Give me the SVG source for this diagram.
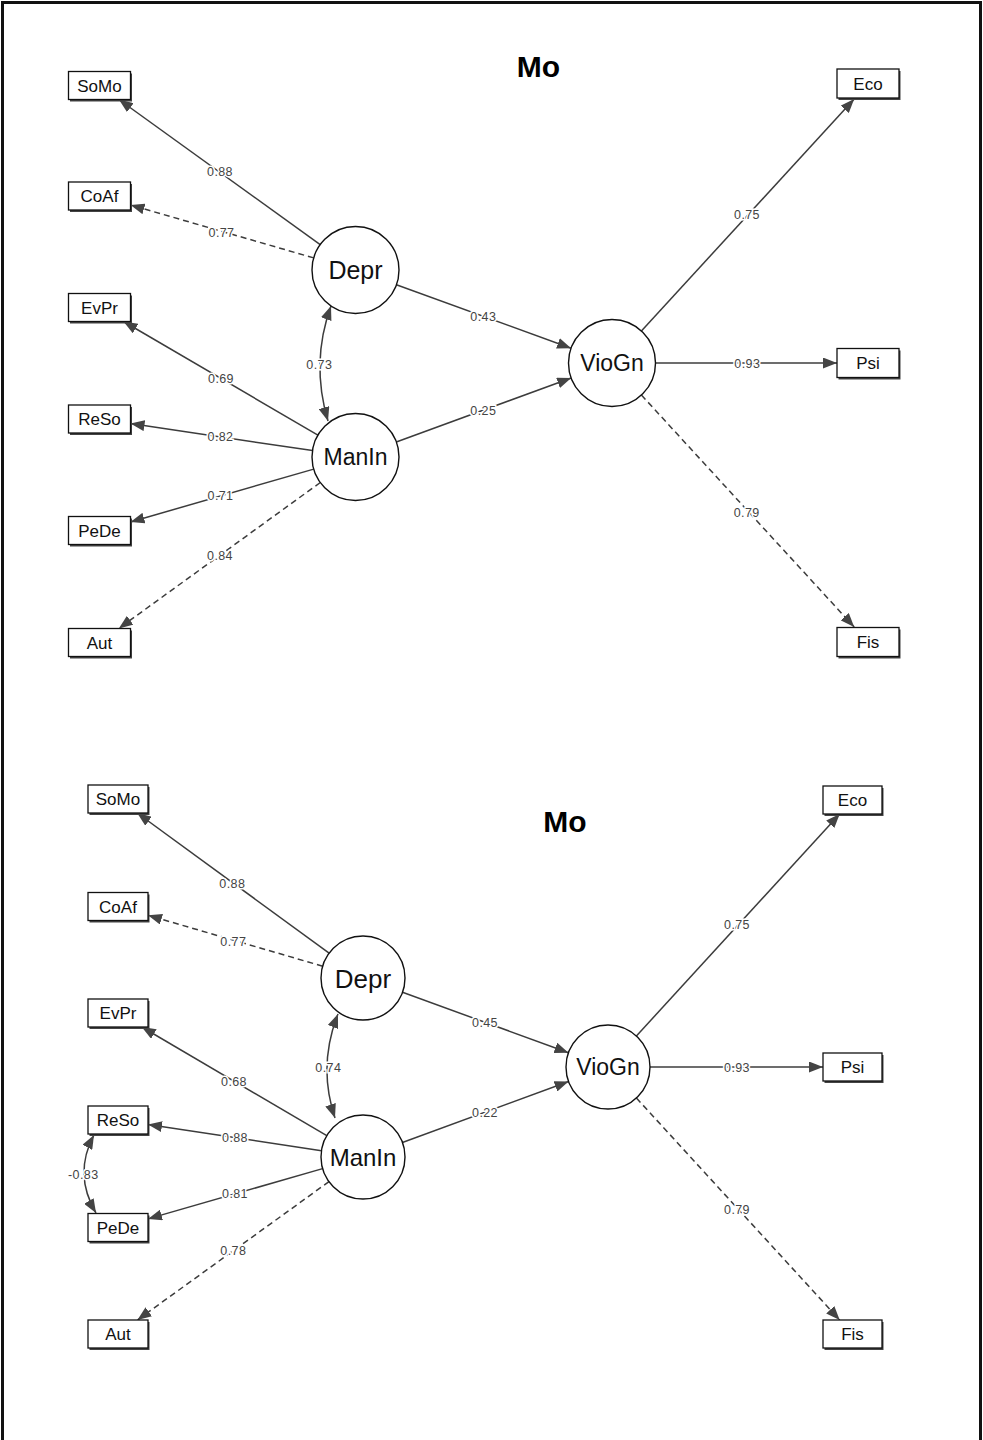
<svg xmlns="http://www.w3.org/2000/svg" width="983" height="1440" viewBox="0 0 983 1440">
<style>
text{font-family:"Liberation Sans",Arial,sans-serif;}
.title{font-size:30px;font-weight:bold;fill:#000;text-anchor:middle;}
.lat circle{fill:#fff;stroke:#111;stroke-width:1.4;}
.lat text{fill:#111;text-anchor:middle;}
.man .sh{fill:#444;}
.man rect.bx{fill:#fff;stroke:#111;stroke-width:1.3;}
.man text{fill:#111;text-anchor:middle;font-size:17px;}
.e{stroke:#3c3c3c;stroke-width:1.5;fill:none;marker-end:url(#ah);}
.d{stroke-dasharray:6 4;}
.bi{marker-start:url(#ah);}
.lbl{font-size:12.5px;letter-spacing:0.4px;fill:#444;text-anchor:middle;stroke:#fff;stroke-width:3;paint-order:stroke;}
</style>
<defs>
<marker id="ah" viewBox="0 0 14 11" refX="14" refY="5.5" markerWidth="14" markerHeight="11" markerUnits="userSpaceOnUse" orient="auto-start-reverse"><path d="M0,0 L14,5.5 L0,11 z" fill="#444"/></marker>
</defs>
<rect width="983" height="1440" fill="#fff"/>
<path d="M2.5,1440 V2.5 H980.5 V1440" fill="none" stroke="#111" stroke-width="3"/>
<text class="title" x="538.5" y="77">Mo</text>
<text class="title" x="565" y="832">Mo</text>

<g id="connectors">
<!-- top -->
<line class="e" x1="320.2" y1="244.6" x2="118.9" y2="99.5"/>
<line class="e d" x1="313.7" y1="257.9" x2="130.5" y2="205"/>
<path class="e bi" d="M331,306 Q310.5,362.5 328,421"/>
<line class="e" x1="317.9" y1="435.1" x2="123.5" y2="321.5"/>
<line class="e" x1="312.5" y1="450.6" x2="130.5" y2="423.6"/>
<line class="e" x1="313.7" y1="469.1" x2="130.5" y2="522"/>
<line class="e d" x1="320.3" y1="482.5" x2="118.8" y2="628.5"/>
<line class="e" x1="396.4" y1="284.8" x2="571.1" y2="348.2"/>
<line class="e" x1="396.3" y1="442" x2="571.2" y2="378"/>
<line class="e" x1="641.4" y1="331" x2="854.2" y2="99"/>
<line class="e" x1="655.5" y1="363" x2="837" y2="363"/>
<line class="e d" x1="641.4" y1="395" x2="854.2" y2="627"/>
<!-- bottom -->
<line class="e" x1="329.1" y1="953.2" x2="137.2" y2="813"/>
<line class="e d" x1="322.7" y1="966.2" x2="148" y2="915.3"/>
<path class="e bi" d="M338,1014 Q317.5,1066 335,1118"/>
<line class="e" x1="326.8" y1="1135.7" x2="141.8" y2="1027"/>
<line class="e" x1="321.5" y1="1150.7" x2="148" y2="1124.5"/>
<line class="e" x1="322.6" y1="1168.6" x2="148" y2="1218.9"/>
<line class="e d" x1="329" y1="1181.6" x2="137.4" y2="1320"/>
<line class="e" x1="402.5" y1="992.3" x2="568.5" y2="1052.7"/>
<line class="e" x1="402.4" y1="1142.5" x2="568.6" y2="1081.5"/>
<line class="e" x1="636.4" y1="1036" x2="839.7" y2="814"/>
<line class="e" x1="650" y1="1067" x2="823" y2="1067"/>
<line class="e d" x1="636.4" y1="1098" x2="839.7" y2="1320"/>
<path class="e bi" d="M94,1135 Q73,1174 96,1213"/>
<!-- labels -->
<g>
<text class="lbl" x="220" y="176">0.88</text>
<text class="lbl" x="221.5" y="237">0.77</text>
<text class="lbl" x="221" y="382.5">0.69</text>
<text class="lbl" x="220.5" y="441">0.82</text>
<text class="lbl" x="220.5" y="500">0.71</text>
<text class="lbl" x="220" y="560">0.84</text>
<text class="lbl" x="319.3" y="368.5">0.73</text>
<text class="lbl" x="483.3" y="321">0.43</text>
<text class="lbl" x="483.3" y="415">0.25</text>
<text class="lbl" x="747" y="218.5">0.75</text>
<text class="lbl" x="747.3" y="368">0.93</text>
<text class="lbl" x="746.7" y="517">0.79</text>
<text class="lbl" x="232.3" y="888">0.88</text>
<text class="lbl" x="233.3" y="946">0.77</text>
<text class="lbl" x="234" y="1085.5">0.68</text>
<text class="lbl" x="235" y="1141.5">0.88</text>
<text class="lbl" x="235" y="1197.5">0.81</text>
<text class="lbl" x="233.3" y="1255">0.78</text>
<text class="lbl" x="83.3" y="1179">-0.83</text>
<text class="lbl" x="328.3" y="1072">0.74</text>
<text class="lbl" x="485" y="1027">0.45</text>
<text class="lbl" x="485" y="1116.5">0.22</text>
<text class="lbl" x="737" y="928.5">0.75</text>
<text class="lbl" x="737" y="1071.5">0.93</text>
<text class="lbl" x="737" y="1213.5">0.79</text>
</g>
</g>

<!-- top latent -->
<g id="t_Depr" class="lat"><circle cx="355.5" cy="270" r="43.5"/><text x="355.5" y="279" font-size="25">Depr</text></g>
<g id="t_ManIn" class="lat"><circle cx="355.5" cy="457" r="43.5"/><text x="355.5" y="465" font-size="23">ManIn</text></g>
<g id="t_VioGn" class="lat"><circle cx="612" cy="363" r="43.5"/><text x="612" y="371" font-size="23">VioGn</text></g>
<!-- top manifest -->
<g id="t_SoMo" class="man"><rect class="sh" x="70" y="73.5" width="62" height="28"/><rect class="bx" x="68.5" y="71.5" width="62" height="28"/><text x="99.5" y="91.5" font-size="15">SoMo</text></g>
<g id="t_CoAf" class="man"><rect class="sh" x="70" y="184" width="62" height="28"/><rect class="bx" x="68.5" y="182" width="62" height="28"/><text x="99.5" y="202">CoAf</text></g>
<g id="t_EvPr" class="man"><rect class="sh" x="70" y="295.5" width="62" height="28"/><rect class="bx" x="68.5" y="293.5" width="62" height="28"/><text x="99.5" y="313.5">EvPr</text></g>
<g id="t_ReSo" class="man"><rect class="sh" x="70" y="407" width="62" height="28"/><rect class="bx" x="68.5" y="405" width="62" height="28"/><text x="99.5" y="425">ReSo</text></g>
<g id="t_PeDe" class="man"><rect class="sh" x="70" y="518.5" width="62" height="28"/><rect class="bx" x="68.5" y="516.5" width="62" height="28"/><text x="99.5" y="536.5">PeDe</text></g>
<g id="t_Aut" class="man"><rect class="sh" x="70" y="630.5" width="62" height="28"/><rect class="bx" x="68.5" y="628.5" width="62" height="28"/><text x="99.5" y="648.5">Aut</text></g>
<g id="t_Eco" class="man"><rect class="sh" x="838.5" y="71" width="62" height="29"/><rect class="bx" x="837" y="69" width="62" height="29"/><text x="868" y="89.5">Eco</text></g>
<g id="t_Psi" class="man"><rect class="sh" x="838.5" y="350.5" width="62" height="29"/><rect class="bx" x="837" y="348.5" width="62" height="29"/><text x="868" y="369">Psi</text></g>
<g id="t_Fis" class="man"><rect class="sh" x="838.5" y="629.5" width="62" height="29"/><rect class="bx" x="837" y="627.5" width="62" height="29"/><text x="868" y="648">Fis</text></g>

<!-- bottom latent -->
<g id="b_Depr" class="lat"><circle cx="363" cy="978" r="42"/><text x="363" y="987.5" font-size="26">Depr</text></g>
<g id="b_ManIn" class="lat"><circle cx="363" cy="1157" r="42"/><text x="363" y="1165.5" font-size="24">ManIn</text></g>
<g id="b_VioGn" class="lat"><circle cx="608" cy="1067" r="42"/><text x="608" y="1075" font-size="23">VioGn</text></g>
<!-- bottom manifest -->
<g id="b_SoMo" class="man"><rect class="sh" x="89.5" y="787" width="60" height="28"/><rect class="bx" x="88" y="785" width="60" height="28"/><text x="118" y="805" font-size="15">SoMo</text></g>
<g id="b_CoAf" class="man"><rect class="sh" x="89.5" y="894.5" width="60" height="28"/><rect class="bx" x="88" y="892.5" width="60" height="28"/><text x="118" y="912.5">CoAf</text></g>
<g id="b_EvPr" class="man"><rect class="sh" x="89.5" y="1001" width="60" height="28"/><rect class="bx" x="88" y="999" width="60" height="28"/><text x="118" y="1019">EvPr</text></g>
<g id="b_ReSo" class="man"><rect class="sh" x="89.5" y="1108" width="60" height="28"/><rect class="bx" x="88" y="1106" width="60" height="28"/><text x="118" y="1126">ReSo</text></g>
<g id="b_PeDe" class="man"><rect class="sh" x="89.5" y="1215.5" width="60" height="28"/><rect class="bx" x="88" y="1213.5" width="60" height="28"/><text x="118" y="1233.5">PeDe</text></g>
<g id="b_Aut" class="man"><rect class="sh" x="89.5" y="1322" width="60" height="28"/><rect class="bx" x="88" y="1320" width="60" height="28"/><text x="118" y="1340">Aut</text></g>
<g id="b_Eco" class="man"><rect class="sh" x="824.5" y="788" width="59" height="28"/><rect class="bx" x="823" y="786" width="59" height="28"/><text x="852.5" y="806">Eco</text></g>
<g id="b_Psi" class="man"><rect class="sh" x="824.5" y="1055" width="59" height="28"/><rect class="bx" x="823" y="1053" width="59" height="28"/><text x="852.5" y="1073">Psi</text></g>
<g id="b_Fis" class="man"><rect class="sh" x="824.5" y="1322" width="59" height="28"/><rect class="bx" x="823" y="1320" width="59" height="28"/><text x="852.5" y="1340">Fis</text></g>
</svg>
